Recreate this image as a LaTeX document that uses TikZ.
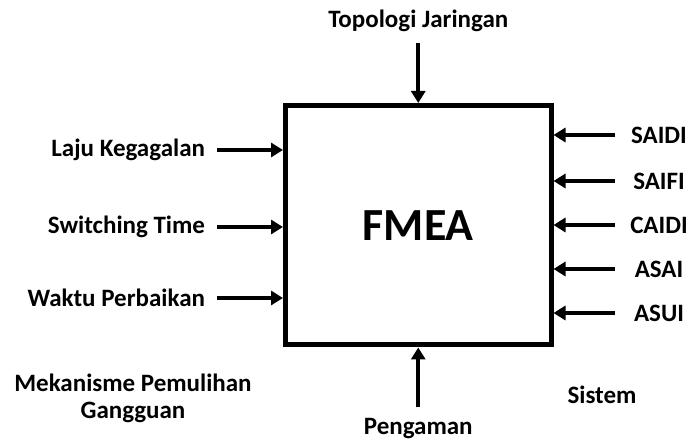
\documentclass[tikz,border=0pt]{standalone}
\usepackage{fontspec}
\setmainfont{Carlito}
\usetikzlibrary{arrows.meta}

\begin{document}
\begin{tikzpicture}[x=1pt, y=-1pt, line width=4pt,
    >={Triangle[length=12pt,width=14pt]},
    lbl/.style = {font=\bfseries\fontsize{25}{27}\selectfont},
    inleft/.style = {lbl, anchor=east, inner xsep=10pt},
    outright/.style = {lbl, minimum width=84pt, inner sep=0pt}]
    \useasboundingbox (0,0) rectangle (691,443);
    \node[draw, line width=5pt, minimum width=265.5pt, minimum height=239.5pt,
          font=\bfseries\fontsize{46}{50}\selectfont] (fmea) at (418.25,225.25) {FMEA};
    % inputs on the left
    \node[inleft] (laju) at (217,150) {Laju Kegagalan};
    \node[inleft] (switch) at (217,227) {Switching Time};
    \node[inleft] (waktu) at (217,298) {Waktu Perbaikan};
    \draw[->] (laju.east) -- (laju.east -| fmea.west);
    \draw[->] (switch.east) -- (switch.east -| fmea.west);
    \draw[->] (waktu.east) -- (waktu.east -| fmea.west);
    % indices on the right
    \node[outright] (saidi) at (659,135) {SAIDI};
    \node[outright] (saifi) at (659,181) {SAIFI};
    \node[outright] (caidi) at (659,225) {CAIDI};
    \node[outright] (asai) at (659,269) {ASAI};
    \node[outright] (asui) at (659,313) {ASUI};
    \draw[->] (saidi.west) -- (saidi.west -| fmea.east);
    \draw[->] (saifi.west) -- (saifi.west -| fmea.east);
    \draw[->] (caidi.west) -- (caidi.west -| fmea.east);
    \draw[->] (asai.west) -- (asai.west -| fmea.east);
    \draw[->] (asui.west) -- (asui.west -| fmea.east);
    % top and bottom
    \node[lbl] (topo) at (418.25,21) {Topologi Jaringan};
    \node[lbl] (peng) at (418.25,429) {Pengaman};
    \draw[->, shorten <=6pt] (topo) -- (fmea);
    \draw[->, shorten <=6pt] (peng) -- (fmea);
    \node[lbl, align=center] (meka) at (133,398) {Mekanisme Pemulihan\\Gangguan};
    \node[lbl] (sistem) at (602,395) {Sistem};
\end{tikzpicture}
\end{document}
